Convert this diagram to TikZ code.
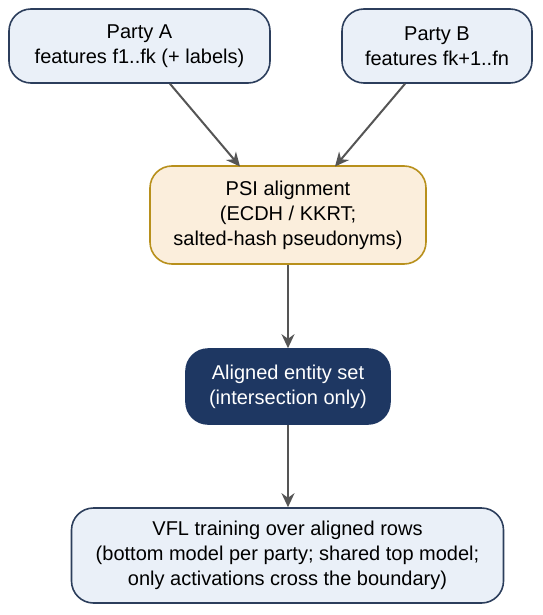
\documentclass[tikz,border=0pt]{standalone}
\usepackage{fontspec}
\setmainfont{Liberation Sans}
\usetikzlibrary{arrows.meta}
\definecolor{lightfill}{HTML}{EAF0F8}
\definecolor{lightborder}{HTML}{2C3E5C}
\definecolor{psifill}{HTML}{FBEEDC}
\definecolor{psiborder}{HTML}{B8901C}
\definecolor{navy}{HTML}{1E3762}
\definecolor{arrowgray}{HTML}{555555}
\begin{document}
\begin{tikzpicture}[x=1pt,y=-1pt,
  box/.style={draw, line width=1.6pt, rounded corners=22pt, align=center, inner sep=0pt,
    font=\fontsize{20}{25}\selectfont},
  lightbox/.style={box, fill=lightfill, draw=lightborder, text=black},
  psibox/.style={box, fill=psifill, draw=psiborder, text=black},
  navybox/.style={box, fill=navy, draw=navy, text=white},
  conn/.style={draw=arrowgray, line width=2pt, -{Stealth[length=14pt,width=13pt]}}]
\useasboundingbox (0,0) rectangle (542,615);
\node[lightbox, minimum width=261pt, minimum height=74pt] (A) at (139.5,46) {Party A\\features f1..fk (+ labels)};
\node[lightbox, minimum width=190pt, minimum height=74pt] (B) at (437,46) {Party B\\features fk+1..fn};
\node[psibox, minimum width=276pt, minimum height=98pt] (P) at (288,215) {PSI alignment\\(ECDH / KKRT;\\salted-hash pseudonyms)};
\node[navybox, minimum width=204pt, minimum height=75pt] (S) at (288,386.5) {Aligned entity set\\(intersection only)};
\node[lightbox, minimum width=432pt, minimum height=95pt] (V) at (287.5,555.5) {VFL training over aligned rows\\(bottom model per party; shared top model;\\only activations cross the boundary)};
\draw[conn] (A.south -| 170,0) -- (240,166.5);
\draw[conn] (B.south -| 405,0) -- (335,166.5);
\draw[conn] (P) -- (S);
\draw[conn] (S) -- (S |- V.north);
\end{tikzpicture}
\end{document}
